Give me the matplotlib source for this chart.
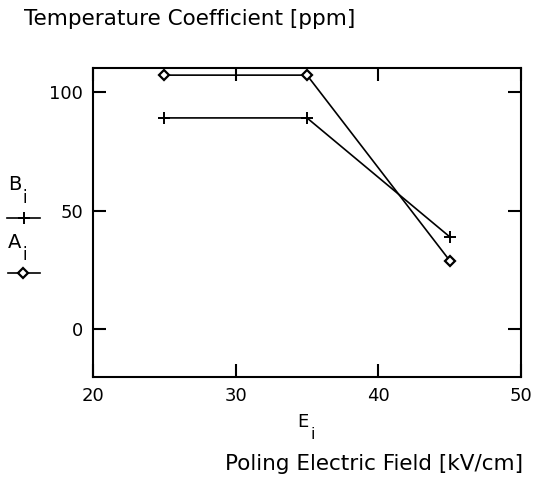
import matplotlib
matplotlib.use("Agg")
import matplotlib.pyplot as plt
from matplotlib.lines import Line2D

# data
field = [25, 35, 45]
coef_a = [107, 107, 29]   # A_i, diamonds
coef_b = [89, 89, 39]     # B_i, plus signs
x_ticks = [20, 30, 40, 50]
y_ticks = [0, 50, 100]

plt.rcParams['font.family'] = ['DejaVu Sans']

fig = plt.figure(figsize=(5.44, 4.86), dpi=100)
W, H = 544, 486
ax = fig.add_axes([93 / W, 1 - 377 / H, (521 - 93) / W, (377 - 68) / H])

ax.plot(field, coef_a, color="black", lw=1.2, marker="D", ms=5.5,
        mfc="white", mec="black", mew=1.6)
ax.plot(field, coef_b, color="black", lw=1.2, marker="+", ms=9, mew=1.4)

ax.set_xlim(20, 50)
ax.set_ylim(-20, 110)
ax.set_xticks(x_ticks)
ax.set_yticks(y_ticks)
ax.tick_params(direction="in", length=9.5, width=1.5, top=True, right=True,
               labelsize=13, pad=7)
for s in ax.spines.values():
    s.set_linewidth(1.5)


def label_sub(x, y, main, sub, size=14):
    # letter with a lowered "i", like the hand lettering in the original
    fig.text(x / W, 1 - y / H, main, fontsize=size, va="center", ha="left")
    fig.text((x + 1.02 * size) / W, 1 - (y + 0.95 * size) / H, sub,
             fontsize=size * 0.85, va="center", ha="left")


# texts around the axes
fig.text(24 / W, 1 - 19 / H, "Temperature Coefficient [ppm]",
         fontsize=15.5, va="center", ha="left")
fig.text(523 / W, 1 - 464 / H, "Poling Electric Field [kV/cm]",
         fontsize=15.5, va="center", ha="right")
label_sub(297, 422, "E", "i", 13)

# hand-made key on the left
label_sub(8, 185, "B", "i", 14)
label_sub(8, 242, "A", "i", 14)
fig.add_artist(Line2D([7 / W, 40 / W], [1 - 218 / H] * 2, color="black", lw=1.2))
fig.add_artist(Line2D([24 / W], [1 - 218 / H], color="black", marker="+",
                      ms=8, mew=1.4))
fig.add_artist(Line2D([8 / W, 40 / W], [1 - 273 / H] * 2, color="black", lw=1.2))
fig.add_artist(Line2D([23 / W], [1 - 273 / H], color="black", marker="D",
                      ms=5.5, mfc="white", mew=1.6))

fig.savefig("out.png", dpi=100)
